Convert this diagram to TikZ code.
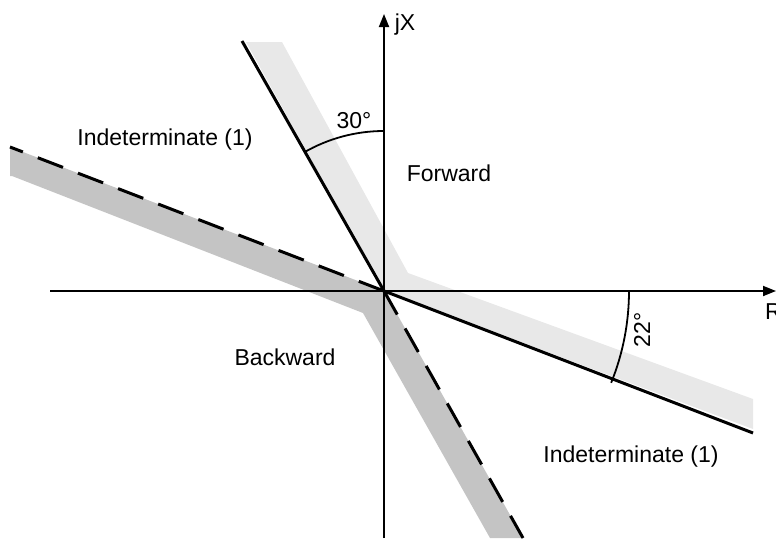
\documentclass[tikz,border=0pt]{standalone}
\usepackage{fontspec}
\setmainfont{Liberation Sans}
\usetikzlibrary{arrows.meta}
\begin{document}
\begin{tikzpicture}[x=1pt,y=-1pt,
  axis/.style={line width=1.8pt,-{Triangle[length=13pt,width=10pt]}},
  bound/.style={line width=3pt},
  dashbound/.style={line width=3pt,dash pattern=on 27pt off 16pt},
  anglearc/.style={line width=1.8pt},
  lbl/.style={font=\fontsize{23}{27}\selectfont,inner sep=0pt},
  lightband/.style={fill=black!9,draw=none},
  darkband/.style={fill=black!23,draw=none}]
\useasboundingbox (0,0) rectangle (776,538);
\coordinate (O) at (384,291);
% light band
\fill[lightband] (246,42) -- (282,42) -- (408,273) -- (753,399) -- (753,429) -- (O) -- cycle;
% dark band
\fill[darkband] (10,147) -- (O) -- (523,538) -- (490,538) -- (363,313) -- (12,176) -- (10,176) -- cycle;
% axes
\coordinate (xs) at (50,291);
\coordinate (xe) at (776,291);
\coordinate (ys) at (384,538);
\coordinate (ye) at (384,14);
\draw[axis] (xs) -- (xe);
\draw[axis] (ys) -- (ye);
% boundaries
\coordinate (U) at (242,41);
\coordinate (L) at (753,433);
\draw[bound] (U) -- (O) -- (L);
\coordinate (DL) at (10,147);
\coordinate (DB) at (523,538);
\draw[dashbound] (O) -- (DL);
\draw[dashbound] (O) -- (DB);
% angle arcs
\coordinate (A30) at (384,131);
\coordinate (A22) at (629,291);
\draw[anglearc] (A30) arc[start angle=-90,end angle=-120,radius=160];
\draw[anglearc] (A22) arc[start angle=0,end angle=22,radius=245];
% labels
\node[lbl] (a30) at (354,121) {30°};
\node[lbl,rotate=90] (a22) at (642,330) {22°};
\node[lbl] (jx) at (405,25) {jX};
\node[lbl,anchor=west] (r) at (765,312) {R};
\node[lbl] (i1) at (165,140) {Indeterminate (1)};
\node[lbl] (fw) at (449,173) {Forward};
\node[lbl] (bw) at (285,357) {Backward};
\node[lbl] (i2) at (631,457) {Indeterminate (1)};
\end{tikzpicture}
\end{document}
